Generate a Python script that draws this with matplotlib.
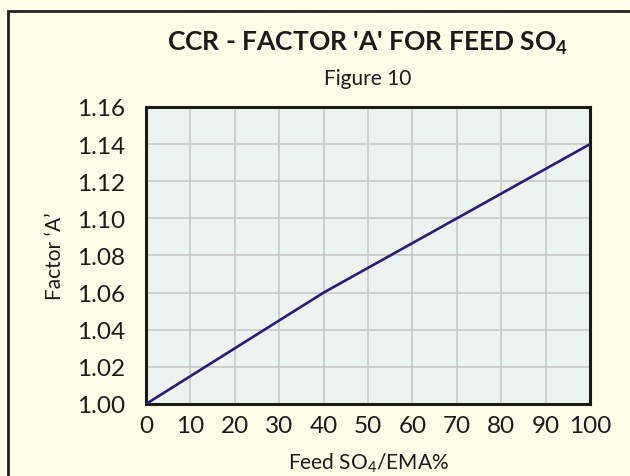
import matplotlib
matplotlib.use("Agg")
import matplotlib.pyplot as plt
from matplotlib.patches import Rectangle
from matplotlib.ticker import FormatStrFormatter

# --- Data ----------------------------------------------------------------
feed_so4 = [0, 40, 100]          # Feed SO4/EMA %
factor_a = [1.00, 1.06, 1.14]    # Factor 'A'

x_ticks = list(range(0, 101, 10))
y_ticks = [1.00, 1.02, 1.04, 1.06, 1.08, 1.10, 1.12, 1.14, 1.16]

BG = "#fffde8"
PLOT_BG = "#ebf4f0"
GRID = "#c8c8c8"
LINE = "#2a1a7a"
INK = "#1a1a1a"

plt.rcParams["font.family"] = ["Lato", "DejaVu Sans"]
plt.rcParams["mathtext.fontset"] = "custom"
plt.rcParams["mathtext.rm"] = "Lato"
plt.rcParams["mathtext.bf"] = "Lato:bold"

fig = plt.figure(figsize=(6.30, 4.77), dpi=100, facecolor=BG)
W, H = 630, 477

# outer frame (runs off the right and bottom edge)
fig.patches.append(Rectangle((8 / W, -0.1), 1.2, 1.1 - 12 / H,
                             transform=fig.transFigure, fill=False,
                             edgecolor="#222222", linewidth=2))

ax = fig.add_axes([146 / W, 1 - 405 / H, (590 - 146) / W, (405 - 108) / H])
ax.set_facecolor(PLOT_BG)

ax.plot(feed_so4, factor_a, color=LINE, linewidth=1.9, zorder=3)

ax.set_xlim(0, 100)
ax.set_ylim(1.00, 1.16)
ax.set_xticks(x_ticks)
ax.set_yticks(y_ticks)
ax.yaxis.set_major_formatter(FormatStrFormatter("%.2f"))
ax.tick_params(length=0, labelsize=17.5, colors=INK)
ax.tick_params(axis="y", pad=15)
ax.tick_params(axis="x", pad=8)
ax.grid(True, color=GRID, linewidth=1.2)
ax.set_axisbelow(True)
for s in ax.spines.values():
    s.set_linewidth(2.2)
    s.set_color(INK)

ax.set_xlabel(r"Feed SO$_4$/EMA%", fontsize=15, labelpad=10, color=INK)
ax.set_ylabel("Factor ‘A’", fontsize=15, labelpad=9, color=INK)

cx = (146 + 590) / 2 / W
fig.text(cx, 1 - 43 / H, r"CCR - FACTOR 'A' FOR FEED SO$_\mathbf{4}$",
         ha="center", va="center", fontsize=19, fontweight="bold",
         color=INK)
fig.text(cx, 1 - 79 / H, "Figure 10", ha="center", va="center",
         fontsize=15, color=INK)

fig.savefig("out.png", dpi=100, facecolor=BG)
